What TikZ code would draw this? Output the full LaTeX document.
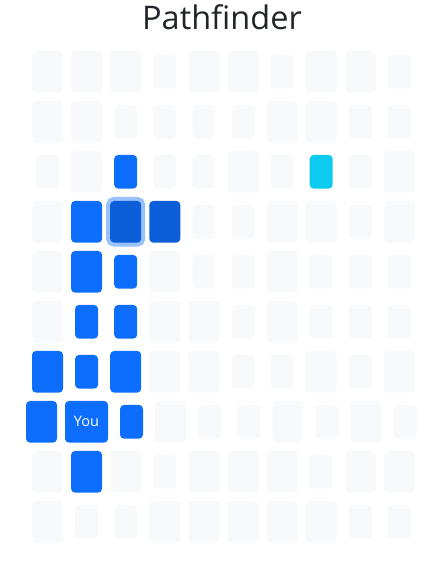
\documentclass[tikz,border=0pt]{standalone}
\usepackage{fontspec}
\setmainfont{Open Sans}
\definecolor{cgray}{HTML}{F8F9FA}
\definecolor{cblue}{HTML}{0D6EFD}
\definecolor{cdark}{HTML}{0B5ED7}
\definecolor{ccyan}{HTML}{0DCAF0}
\definecolor{cring}{HTML}{98C1FE}
\definecolor{ctext}{HTML}{212529}
\tikzset{
  cellB/.style={minimum width=31pt, minimum height=41.7pt, inner sep=0pt, rounded corners=4pt},
  cellS/.style={minimum width=23pt, minimum height=33.7pt, inner sep=0pt, rounded corners=4pt},
  cellW/.style={minimum width=43pt, minimum height=41.7pt, inner sep=0pt, rounded corners=4pt},
  fg/.style={fill=cgray},
  fb/.style={fill=cblue},
  fd/.style={fill=cdark},
  fc/.style={fill=ccyan},
  fh/.style={fill=cdark, preaction={draw=cring, line width=8pt}},
}
\begin{document}
\begin{tikzpicture}[x=1pt,y=-1pt]
\useasboundingbox (0,0) rectangle (441,565);
\node[anchor=base, text=ctext, font=\fontsize{32.5}{38}\selectfont, inner sep=0pt] (title) at (222,29) {Pathfinder};
\foreach \row/\cells in {
 1/{B/g,B/g,B/g,S/g,B/g,B/g,S/g,B/g,B/g,S/g},
 2/{B/g,B/g,S/g,S/g,S/g,S/g,B/g,B/g,S/g,S/g},
 3/{S/g,B/g,S/b,S/g,S/g,B/g,S/g,S/c,S/g,B/g},
 4/{B/g,B/b,B/h,B/d,S/g,S/g,B/g,B/g,S/g,B/g},
 5/{B/g,B/b,S/b,B/g,S/g,S/g,B/g,S/g,S/g,S/g},
 6/{B/g,S/b,S/b,B/g,B/g,S/g,B/g,S/g,S/g,S/g},
 7/{B/b,S/b,B/b,B/g,B/g,S/g,S/g,B/g,S/g,B/g},
 9/{B/g,B/b,B/g,S/g,B/g,B/g,B/g,S/g,B/g,B/g},
 10/{B/g,S/g,S/g,B/g,B/g,B/g,B/g,B/g,S/g,S/g}}{
  \foreach \s/\c [count=\i] in \cells {
    \node[cell\s, f\c] (r\row c\i) at ({47.5+39.1*(\i-1)},{71.8+50*(\row-1)}) {};
  }
}
% row 8 (wider "You" cell shifts the row)
\node[cellB, fb] (r8c1) at (41.5,421.8) {};
\node[cellW, fb, text=white, font=\fontsize{14.5}{17}\selectfont] (you) at (86.5,421.8) {You};
\foreach \s/\c [count=\j from 3] in {S/b,B/g,S/g,S/g,B/g,S/g,B/g,S/g}{
  \node[cell\s, f\c] (r8c\j) at ({131.5+39.1*(\j-3)},421.8) {};
}
\end{tikzpicture}
\end{document}
